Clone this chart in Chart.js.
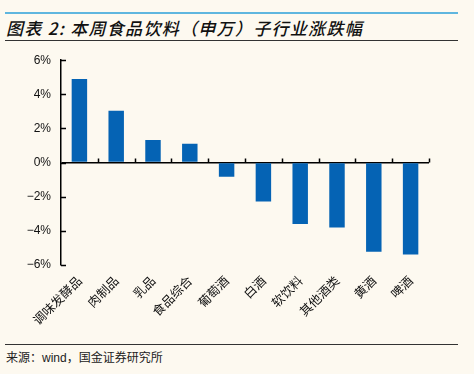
<!DOCTYPE html>
<html>
<head>
<meta charset="utf-8">
<script src="https://cdn.jsdelivr.net/npm/chart.js@4.4.1/dist/chart.umd.min.js"></script>
<style>
  html, body { margin: 0; padding: 0; }
  body { width: 474px; height: 374px; background: #fdf9f0; position: relative; overflow: hidden; }
  .topline { position: absolute; left: 5px; top: 12px; width: 453px; height: 2px; background: #5fb6df; }
  .title { position: absolute; left: 6px; top: 15px; font-family: 'Noto Sans CJK SC', sans-serif; font-size: 17px; font-style: italic; font-weight: 500; color: #111; letter-spacing: 1.3px; white-space: nowrap; }
  .titleline { position: absolute; left: 5px; top: 40px; width: 453px; height: 1px; background: #333; }
  .footline { position: absolute; left: 5px; top: 344px; width: 453px; height: 1px; background: #333; }
  .source { position: absolute; left: 6px; top: 348px; font-family: 'Noto Sans CJK SC', sans-serif; font-size: 12px; color: #222; white-space: nowrap; }
  .wrap { position: absolute; left: 0; top: 43px; width: 474px; height: 297px; }
</style>
</head>
<body>
<div class="topline"></div>
<div class="title">图表 2:&nbsp;本周食品饮料（申万）子行业涨跌幅</div>
<div class="titleline"></div>
<div class="wrap"><canvas id="chart"></canvas></div>
<div class="footline"></div>
<div class="source">来源：<span style="font-family:'Liberation Sans',sans-serif;">wind</span>，国金证券研究所</div>

<script>
const categories = ['调味发酵品', '肉制品', '乳品', '食品综合', '葡萄酒', '白酒', '软饮料', '其他酒类', '黄酒', '啤酒'];
const changes = [4.9, 3.04, 1.33, 1.1, -0.83, -2.28, -3.6, -3.8, -5.23, -5.38];
const yTicks = [-6, -4, -2, 0, 2, 4, 6];

// short axis ticks pointing into the plot, like the source chart
const innerTicks = {
    id: 'innerTicks',
    afterDraw(chart) {
        const { ctx, scales: { x, y } } = chart;
        const zero = y.getPixelForValue(0);
        ctx.save();
        ctx.strokeStyle = '#000';
        ctx.lineWidth = 1.5;
        ctx.beginPath();
        yTicks.forEach(v => {
            const py = Math.round(y.getPixelForValue(v)) + 0.5;
            ctx.moveTo(x.left, py);
            ctx.lineTo(x.left + 5, py);
        });
        for (let i = 1; i <= categories.length; i++) {
            const px = i < categories.length
                ? (x.getPixelForValue(i - 1) + x.getPixelForValue(i)) / 2
                : x.right;
            ctx.moveTo(Math.round(px) + 0.5, zero);
            ctx.lineTo(Math.round(px) + 0.5, zero - 4);
        }
        ctx.stroke();
        ctx.restore();
    }
};

new Chart(document.getElementById('chart'), {
    type: 'bar',
    data: {
        labels: categories,
        datasets: [{
            data: changes,
            backgroundColor: '#0563b4',
            barPercentage: 0.42,
            categoryPercentage: 1
        }]
    },
    options: {
        responsive: true,
        maintainAspectRatio: false,
        animation: false,
        devicePixelRatio: 1,
        layout: { padding: { top: 13, right: 45, bottom: 0, left: 0 } },
        plugins: { legend: { display: false }, tooltip: { enabled: false } },
        scales: {
            x: {
                grid: { display: false, drawTicks: false },
                border: { display: false },
                ticks: {
                    autoSkip: false,
                    minRotation: 45,
                    maxRotation: 45,
                    padding: 8,
                    color: '#111',
                    font: { family: "'Noto Sans CJK SC', sans-serif", size: 12.5 }
                },
                afterFit: s => { s.height = 75; }
            },
            y: {
                min: -6,
                max: 6,
                afterBuildTicks: s => { s.ticks = yTicks.map(v => ({ value: v })); },
                grid: {
                    drawTicks: false,
                    lineWidth: 1.5,
                    color: c => c.tick && c.tick.value === 0 ? '#000' : 'rgba(0,0,0,0)'
                },
                border: { display: true, color: '#000', width: 1.5 },
                ticks: {
                    padding: 10,
                    color: '#111',
                    font: { family: "'Liberation Sans', Arial, sans-serif", size: 12 },
                    callback: v => (v < 0 ? '−' : '') + Math.abs(v) + '%'
                },
                afterFit: s => { s.width = 61; }
            }
        }
    },
    plugins: [innerTicks]
});
</script>
</body>
</html>
